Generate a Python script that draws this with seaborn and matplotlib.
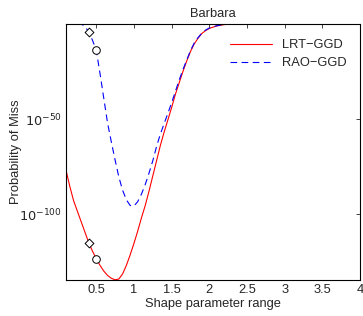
import numpy as np
import pandas as pd
import matplotlib
matplotlib.use("Agg")
import matplotlib.pyplot as plt
import matplotlib.ticker as mticker
import seaborn as sns

# shape parameter grid and log10 of the miss probability
shape = [0.1, 0.15, 0.2, 0.25, 0.3, 0.35, 0.4, 0.45, 0.5, 0.55, 0.6, 0.65, 0.7, 0.75,
         0.8, 0.85, 0.9, 0.95, 1.0, 1.05, 1.1, 1.15, 1.2, 1.25, 1.3, 1.35, 1.4, 1.45,
         1.5, 1.55, 1.6, 1.65, 1.7, 1.75, 1.8, 1.85, 1.9, 1.95, 2.0, 2.1, 2.2, 2.3,
         2.5, 3.0, 3.5, 4.0]
lrt_log = [-77, -85.5, -93, -98.5, -104, -109.5, -115, -119.5, -123.5, -127, -130,
           -132.3, -133.8, -134.6, -134.2, -131.5, -127, -121.5, -115.5, -109, -102,
           -95.5, -88, -80, -72, -64, -57, -50.5, -44, -37, -31, -25, -19.5, -14.5,
           -10.5, -7.5, -5, -3.5, -2.3, -1, -0.3, 0, 0, 0, 0, 0]
rao_log = [0, 0, 0, 0, 0, -1.2, -4.2, -8.5, -13.7, -26, -39, -52, -62, -71.5, -80.5,
           -87.5, -92.5, -95.5, -95.8, -93.5, -89.5, -84.5, -78.5, -72, -64.5, -58,
           -52.5, -47, -41.5, -35.5, -29.5, -24, -19, -14, -10, -7.2, -4.8, -3.2,
           -2.1, -0.9, -0.2, 0, 0, 0, 0, 0]

# marked points (diamond at 0.4, circle at 0.5)
mark_x = [0.4, 0.5]

df = pd.DataFrame({
    'shape': shape * 2,
    'pm': [10.0 ** v for v in lrt_log] + [10.0 ** v for v in rao_log],
    'method': ['LRT\u2212GGD'] * len(shape) + ['RAO\u2212GGD'] * len(shape),
})

sns.set_style('white')
plt.rcParams['font.family'] = ['Liberation Sans', 'DejaVu Sans']
fs = 9.3

fig = plt.figure(figsize=(3.63, 3.16), dpi=100)
ax = fig.add_axes([0.182, 0.114, 0.81, 0.81])

sns.lineplot(data=df[df.method == 'LRT\u2212GGD'], x='shape', y='pm', color='red',
             lw=0.8, ax=ax, label='LRT\u2212GGD')
sns.lineplot(data=df[df.method == 'RAO\u2212GGD'], x='shape', y='pm', color='blue',
             lw=0.8, ax=ax, label='RAO\u2212GGD')
ax.lines[1].set_dashes((6, 4))

for x, m in zip(mark_x, ['D', 'o']):
    i = shape.index(x)
    for vals in (lrt_log, rao_log):
        ax.scatter([x], [10.0 ** vals[i]], marker=m, s=30 if m == 'o' else 20,
                   facecolors='white', edgecolors='black', linewidths=0.7, zorder=5)

ax.set_yscale('log')
ax.set_xlim(0.1, 4)
ax.set_ylim(10.0 ** -134.7, 1)
ax.yaxis.set_major_locator(mticker.FixedLocator([1e-100, 1e-50]))
ax.yaxis.set_major_formatter(mticker.FixedFormatter(['$10^{-100}$', '$10^{-50}$']))
ax.yaxis.set_minor_locator(mticker.NullLocator())
ax.set_xticks([0.5, 1, 1.5, 2, 2.5, 3, 3.5, 4])
ax.set_xticklabels(['0.5', '1', '1.5', '2', '2.5', '3', '3.5', '4'])
ax.tick_params(direction='in', length=3, width=0.6, top=True, right=True,
               labelsize=fs, pad=3)
for s in ax.spines.values():
    s.set_linewidth(0.8)
    s.set_color('black')

ax.set_xlabel('Shape parameter range', fontsize=fs, labelpad=1)
ax.set_ylabel('Probability of Miss', fontsize=fs, labelpad=-2)
ax.set_title('Barbara', fontsize=fs, pad=5)

leg = ax.legend(loc='upper right', frameon=False, fontsize=fs, handlelength=3.2,
                bbox_to_anchor=(0.985, 0.975), borderaxespad=0.3, labelspacing=0.45)

fig.savefig('out.png', dpi=100)
